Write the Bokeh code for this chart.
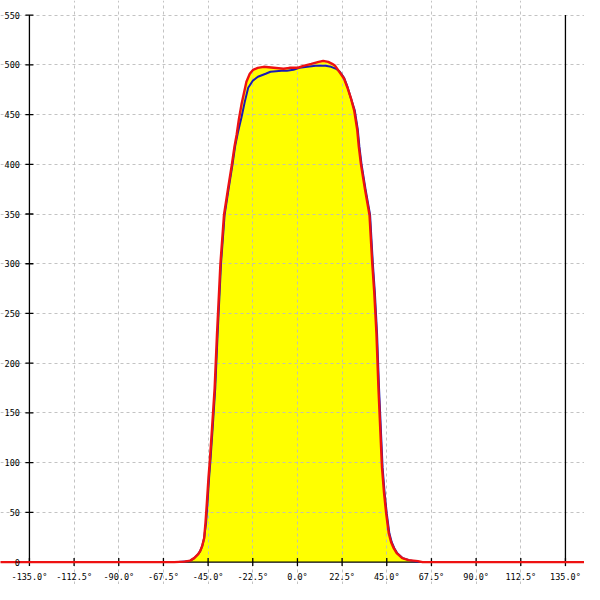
import numpy as np
from bokeh.plotting import figure
from bokeh.models import Range1d, FixedTicker
from bokeh.embed import file_html
from bokeh.resources import INLINE
from bokeh.core.properties import value

# ---- data ----
red_x = [-180, -62, -57, -54, -52, -50, -49, -48, -47, -46.3, -45.6, -44.8, -44.2, -43, -41.7,
         -40.5, -39.5, -38.8, -37.5, -37.0, -35, -33, -31.7, -30.6, -29.5, -28.2, -25.7, -24,
         -22.3, -20, -17, -12, -7, -4, 0, 3, 7, 10.7, 13, 15.5, 17.5, 19, 21.8, 23.5, 25.2, 27,
         28.6, 30.1, 30.9, 32, 34, 36.3, 37.7, 38.7, 39.8, 40.8, 41.8, 42.6, 43.6, 44.7, 46.0,
         47.2, 48.5, 50, 52.8, 56, 60.7, 63, 180]
red_y = [0, 0, 0.5, 1.5, 4, 8, 11, 16, 24, 40, 60, 85, 100, 135, 175,
         230, 271, 300, 335, 349, 375, 400, 418, 430, 445, 460, 483, 491,
         495, 497, 498, 497, 496, 497, 497, 499, 501, 503, 504, 503, 501, 499, 491, 486, 477, 466,
         454, 435, 418, 400, 375, 349, 300, 271, 230, 175, 130, 95, 70, 49, 29,
         20, 14, 9, 4, 2, 1, 0, 0]

blue_x = [-60, -57, -54, -52, -50, -49, -48, -47, -46.0, -45.3, -44.5, -43.9, -42.7, -41.4,
          -40.2, -39.2, -38.5, -37.2, -36.7, -34.7, -32.7, -31.4, -30, -28.2, -26.5, -24.8,
          -22.5, -19.9, -16, -13.6, -8, -5.3, -2, 1, 5, 9.2, 14.1, 17, 19.5, 21.4, 23.5, 25.2,
          27, 28.9, 30.4, 31.2, 32.3, 34.3, 36.6, 38.0, 39.0, 40.1, 41.1, 42.1, 42.9, 43.9,
          45.0, 46.3, 47.5, 48.8, 50.3, 53.1, 56.3, 61]
blue_y = [0, 0.5, 1.5, 4, 8, 11, 16, 24, 40, 60, 85, 100, 135, 175,
          230, 271, 300, 335, 349, 375, 400, 418, 432, 447, 463, 477,
          484, 488, 491, 493, 494, 494, 495, 497, 498, 499, 499, 498, 496, 493, 487, 478,
          466, 454, 435, 418, 400, 375, 349, 300, 271, 230, 175, 130, 95, 70,
          49, 29, 20, 14, 9, 4, 2, 0]

x_ticks = [-135, -112.5, -90, -67.5, -45, -22.5, 0, 22.5, 45, 67.5, 90, 112.5, 135]
x_labels = ["-135.0°", "-112.5°", "-90.0°", "-67.5°", "-45.0°", "-22.5°", "0.0°",
            "22.5°", "45.0°", "67.5°", "90.0°", "112.5°", "135.0°"]
y_ticks = [0, 50, 100, 150, 200, 250, 300, 350, 400, 450, 500, 550]
y_labels = [str(v) for v in y_ticks]

X_MIN, X_MAX = -135, 135
Y_MIN, Y_MAX = 0, 550

p = figure(width=584, height=584, output_backend="svg", toolbar_location=None,
           x_range=Range1d(-149.57, 144.6), y_range=Range1d(-22.51, 564.68),
           min_border=0)
p.axis.visible = False
p.outline_line_color = None
p.background_fill_color = "white"
p.border_fill_color = "white"

# grids
p.xgrid.ticker = FixedTicker(ticks=x_ticks[1:-1])
p.ygrid.ticker = FixedTicker(ticks=y_ticks[1:])
p.xgrid.bounds = (Y_MIN, Y_MAX)
p.ygrid.bounds = (X_MIN, X_MAX)
for g in (p.xgrid, p.ygrid):
    g.grid_line_color = "#bdbdbd"
    g.grid_line_alpha = 0.9
    g.grid_line_dash = "3 3"
    g.grid_line_width = 1

# yellow fill under red curve (below grid)
p.varea(x=red_x, y1=0, y2=red_y, fill_color="#ffff00", level="image")

# axis frame lines
p.segment(x0=[X_MIN, X_MAX, X_MIN], y0=[Y_MIN, Y_MIN, Y_MIN],
          x1=[X_MIN, X_MAX, X_MAX], y1=[Y_MAX, Y_MAX, Y_MIN],
          line_color="black", line_width=1.3)

# ticks
p.scatter(x=[X_MIN] * len(y_ticks), y=y_ticks, marker="dash", size=8,
          line_color="black", line_width=1.3)
p.scatter(x=x_ticks, y=[Y_MIN] * len(x_ticks), marker="dash", size=8, angle=np.pi / 2,
          line_color="black", line_width=1.3)

# curves
p.line(blue_x, blue_y, line_color="#1a1ab4", line_width=2)
p.line(red_x, red_y, line_color="#ee1111", line_width=2.4)

# tick labels
p.text(x=x_ticks, y=[Y_MIN] * len(x_ticks), text=x_labels, y_offset=15,
       text_align="center", text_baseline="middle", text_font=value("DejaVu Sans Mono"),
       text_font_size="8.5px", text_color="black")
p.text(x=[X_MIN] * len(y_ticks), y=y_ticks, text=y_labels, x_offset=-9.5,
       text_align="right", text_baseline="middle", text_font=value("DejaVu Sans Mono"),
       text_font_size="8.5px", text_color="black")

open("out.html", "w").write(file_html(p, INLINE))
